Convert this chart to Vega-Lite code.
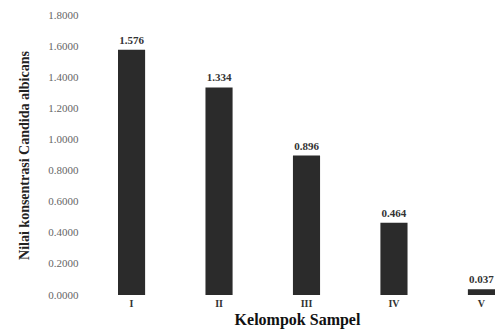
{
  "$schema": "https://vega.github.io/schema/vega-lite/v6.json",
  "width": 377,
  "height": 280,
  "autosize": {"type": "none"},
  "padding": {"left": 118, "top": 15, "right": 1, "bottom": 36},
  "background": "white",
  "config": {
    "view": {"stroke": null},
    "font": "Liberation Serif"
  },
  "data": {
    "values": [
      {"kelompok": "I", "nilai": 1.576, "label": "1.576"},
      {"kelompok": "II", "nilai": 1.334, "label": "1.334"},
      {"kelompok": "III", "nilai": 0.896, "label": "0.896"},
      {"kelompok": "IV", "nilai": 0.464, "label": "0.464"},
      {"kelompok": "V", "nilai": 0.037, "label": "0.037"}
    ]
  },
  "encoding": {
    "x": {
      "field": "kelompok",
      "type": "nominal",
      "sort": null,
      "scale": {"paddingInner": 0.69, "paddingOuter": 0},
      "axis": {
        "title": "Kelompok Sampel",
        "titleFont": "Liberation Serif",
        "titleFontSize": 16,
        "titleFontWeight": "bold",
        "titleColor": "#111",
        "titleX": 179,
        "titlePadding": 3,
        "labelAngle": 0,
        "labelFontSize": 10,
        "labelFontWeight": "bold",
        "labelColor": "#333",
        "labelPadding": 3,
        "domain": false,
        "ticks": false,
        "grid": false
      }
    },
    "y": {
      "field": "nilai",
      "type": "quantitative",
      "scale": {"domain": [0, 1.8], "nice": false},
      "axis": {
        "title": "Nilai konsentrasi Candida albicans",
        "titleFont": "Liberation Serif",
        "titleFontSize": 14,
        "titleFontWeight": "bold",
        "titleColor": "#222",
        "titlePadding": 16,
        "values": [0, 0.2, 0.4, 0.6, 0.8, 1.0, 1.2, 1.4, 1.6, 1.8],
        "format": ".4f",
        "labelFontSize": 11,
        "labelColor": "#666",
        "labelPadding": 2,
        "offset": 38,
        "domain": false,
        "ticks": false,
        "grid": false
      }
    }
  },
  "layer": [
    {
      "mark": {"type": "bar", "color": "#2b2b2b"}
    },
    {
      "mark": {"type": "text", "dy": -9, "fontSize": 11, "fontWeight": "bold", "color": "#333", "font": "Liberation Serif"},
      "encoding": {"text": {"field": "label"}}
    }
  ]
}
